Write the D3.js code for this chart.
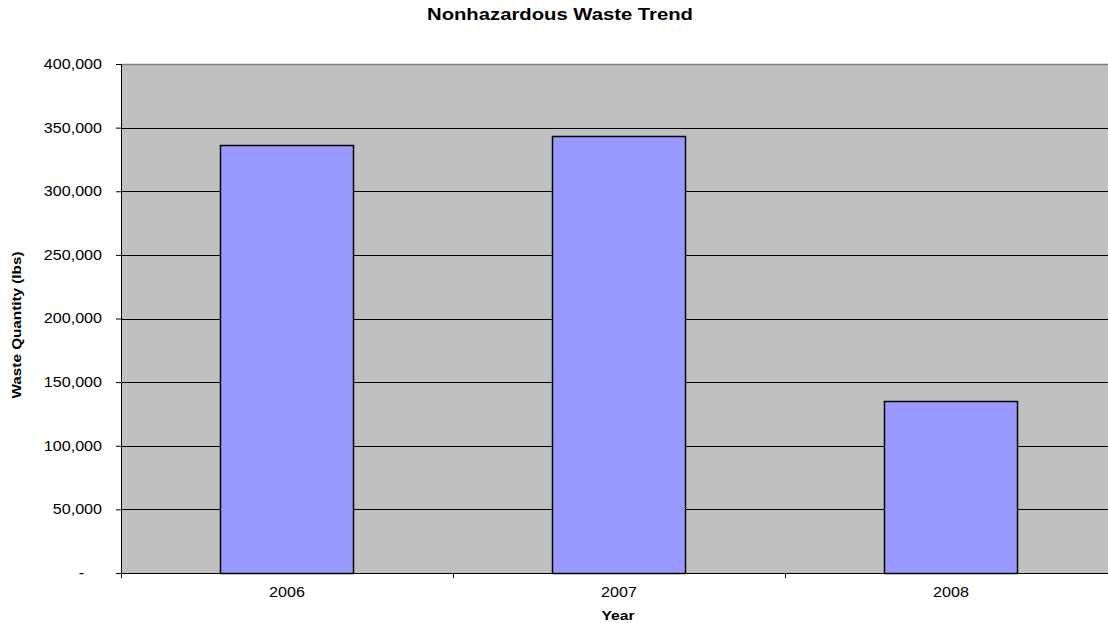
<!DOCTYPE html>
<html>
<head>
<meta charset="utf-8">
<script src="https://cdn.jsdelivr.net/npm/d3@7"></script>
<style>
  body { margin: 0; background: #fff; }
  text { font-family: Arial, "Liberation Sans", sans-serif; }
</style>
</head>
<body>
<div id="chart"></div>
<script>
const years = ["2006", "2007", "2008"];
const wasteLbs = [336000, 343500, 135000];
const yTicks = [0, 50000, 100000, 150000, 200000, 250000, 300000, 350000, 400000];

const W = 1108, H = 627;
// the plot area runs past the right edge of the picture, as in the original
const margin = {top: 64, left: 121};
const width = 996;
const height = 509;

const svg = d3.select("#chart").append("svg")
    .attr("width", W)
    .attr("height", H);

const g = svg.append("g")
    .attr("transform", "translate(" + margin.left + "," + margin.top + ")");

const x = d3.scaleBand().domain(years).range([0, width]);
const y = d3.scaleLinear().domain([0, 400000]).range([height, 0]);
const fmt = d3.format(",");

// stretch text a little wider, the source was rendered wide
const stretch = function (sel, k) {
    sel.each(function () {
        const t = d3.select(this);
        t.attr("textLength", this.getComputedTextLength() * k)
         .attr("lengthAdjust", "spacingAndGlyphs");
    });
};

// plot background
g.append("rect")
    .attr("width", width).attr("height", height)
    .attr("fill", "#c0c0c0");

// top border
g.append("line")
    .attr("x1", 0).attr("x2", width)
    .attr("y1", 0.5).attr("y2", 0.5)
    .attr("stroke", "#808080").attr("stroke-width", 1.5);

// gridlines
g.selectAll(".grid")
    .data(yTicks.filter(d => d > 0 && d < 400000))
    .join("line")
    .attr("class", "grid")
    .attr("x1", 0).attr("x2", width)
    .attr("y1", d => Math.round(y(d)) + 0.5)
    .attr("y2", d => Math.round(y(d)) + 0.5)
    .attr("stroke", "#000").attr("stroke-width", 1);

// bars
const barW = x.bandwidth() * 0.4;
g.selectAll(".bar")
    .data(years.map((yr, i) => ({yr, v: wasteLbs[i]})))
    .join("rect")
    .attr("class", "bar")
    .attr("x", d => Math.floor(x(d.yr) + (x.bandwidth() - barW) / 2) + 0.5)
    .attr("y", d => Math.round(y(d.v)) + 0.5)
    .attr("width", Math.round(barW))
    .attr("height", d => Math.round(height - y(d.v)))
    .attr("fill", "#9999ff")
    .attr("stroke", "#000").attr("stroke-width", 1.5);

// y axis
const yAxis = g.append("g")
    .call(d3.axisLeft(y).tickValues(yTicks).tickSize(5).tickPadding(14)
        .tickFormat(d => d === 0 ? "-" : fmt(d)));
yAxis.select(".domain").attr("stroke", "#000");
yAxis.selectAll("line").attr("stroke", "#000");
yAxis.selectAll("text").attr("font-size", 14).attr("fill", "#000")
    .call(stretch, 1.15);
// accounting style dash sits left of the digits
yAxis.selectAll(".tick").filter(d => d === 0).select("text").attr("dx", -18);

// x axis
const xAxis = g.append("g")
    .attr("transform", "translate(0," + height + ")")
    .call(d3.axisBottom(x).tickSize(0).tickPadding(14));
xAxis.select(".domain").attr("stroke", "#000");
xAxis.selectAll("text").attr("font-size", 14).attr("fill", "#000")
    .call(stretch, 1.15);

// category separators on x axis
g.selectAll(".xtick")
    .data(years)
    .join("line")
    .attr("class", "xtick")
    .attr("x1", d => Math.round(x(d)) + 0.5).attr("x2", d => Math.round(x(d)) + 0.5)
    .attr("y1", height).attr("y2", height + 5)
    .attr("stroke", "#000");

// titles
svg.append("text")
    .attr("x", 560).attr("y", 20)
    .attr("text-anchor", "middle")
    .attr("font-size", 16).attr("font-weight", "bold")
    .attr("textLength", 266).attr("lengthAdjust", "spacingAndGlyphs")
    .text("Nonhazardous Waste Trend");

svg.append("text")
    .attr("x", 618).attr("y", 620)
    .attr("text-anchor", "middle")
    .attr("font-size", 12).attr("font-weight", "bold")
    .attr("textLength", 33).attr("lengthAdjust", "spacingAndGlyphs")
    .text("Year");

svg.append("text")
    .attr("transform", "translate(21,325) rotate(-90)")
    .attr("text-anchor", "middle")
    .attr("font-size", 12).attr("font-weight", "bold")
    .attr("textLength", 147).attr("lengthAdjust", "spacingAndGlyphs")
    .text("Waste Quantity (lbs)");
</script>
</body>
</html>
